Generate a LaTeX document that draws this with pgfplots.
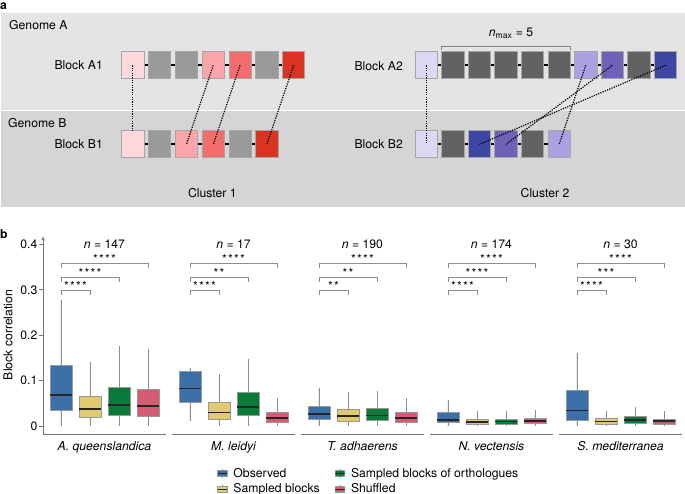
\documentclass[border=0pt]{standalone}
\usepackage{fontspec}
\setmainfont{TeX Gyre Heros}
\usepackage{pgfplots}
\usepackage{pgfplotstable}
\pgfplotsset{compat=1.18}
\usepgfplotslibrary{statistics}

% series colours
\definecolor{cobs}{HTML}{3C6EA8}
\definecolor{csam}{HTML}{E2CB6C}
\definecolor{cort}{HTML}{0A7A3B}
\definecolor{cshu}{HTML}{D45B71}
% schematic colours
\definecolor{bgA}{HTML}{E4E4E4}
\definecolor{bgB}{HTML}{D5D5D5}
\definecolor{pk1}{HTML}{FDD9DE}
\definecolor{pk2}{HTML}{FBA4A9}
\definecolor{pk3}{HTML}{F46D6D}
\definecolor{pk4}{HTML}{D93322}
\definecolor{gl}{HTML}{9A9A9A}
\definecolor{gd}{HTML}{626262}
\definecolor{lv1}{HTML}{DCD8F4}
\definecolor{lv2}{HTML}{A9A1E0}
\definecolor{lv3}{HTML}{6E62B8}
\definecolor{lv4}{HTML}{3D46A0}

% box statistics, rows: observed, sampled blocks, sampled orthologues, shuffled
\pgfplotstableread{
lw    lq    med   uq    uw
0     0.035 0.068 0.134 0.277
0     0.018 0.037 0.066 0.141
0     0.023 0.046 0.085 0.176
0     0.021 0.044 0.081 0.169
}\aque
\pgfplotstableread{
lw    lq    med   uq    uw
0.010 0.052 0.083 0.121 0.127
0     0.015 0.030 0.053 0.114
0     0.023 0.042 0.073 0.147
0     0.008 0.018 0.030 0.062
}\mlei
\pgfplotstableread{
lw    lq    med   uq    uw
0     0.015 0.026 0.044 0.083
0     0.011 0.022 0.037 0.075
0     0.012 0.023 0.038 0.077
0     0.009 0.017 0.031 0.061
}\tadh
\pgfplotstableread{
lw    lq    med   uq    uw
0     0.007 0.013 0.029 0.057
0     0.004 0.009 0.015 0.033
0     0.004 0.010 0.015 0.033
0     0.005 0.011 0.017 0.035
}\nvec
\pgfplotstableread{
lw    lq    med   uq    uw
0     0.013 0.034 0.079 0.160
0     0.004 0.010 0.016 0.034
0     0.006 0.013 0.021 0.041
0     0.004 0.011 0.015 0.033
}\smed

\newcommand\bx[3]{%
  \pgfplotstablegetelem{#2}{lw}\of{#1}\edef\vlw{\pgfplotsretval}%
  \pgfplotstablegetelem{#2}{lq}\of{#1}\edef\vlq{\pgfplotsretval}%
  \pgfplotstablegetelem{#2}{med}\of{#1}\edef\vmed{\pgfplotsretval}%
  \pgfplotstablegetelem{#2}{uq}\of{#1}\edef\vuq{\pgfplotsretval}%
  \pgfplotstablegetelem{#2}{uw}\of{#1}\edef\vuw{\pgfplotsretval}%
  \edef\dobox{\noexpand\addplot[forget plot, fill=#3, draw=black!40, line width=0.8bp,
    boxplot/every box/.style={fill=#3, draw=black!40, line width=0.8bp},
    boxplot prepared={draw direction=y, draw position=#2+1,
      lower whisker=\vlw, lower quartile=\vlq, median=\vmed,
      upper quartile=\vuq, upper whisker=\vuw}]
    coordinates {};}%
  \dobox}
\newcommand\boxes[1]{\bx{#1}{0}{cobs}\bx{#1}{1}{csam}\bx{#1}{2}{cort}\bx{#1}{3}{cshu}}

\newcommand\stwo{*\kern1.3bp*}
\newcommand\sthree{*\kern1.3bp*\kern1.3bp*}
\newcommand\sfour{*\kern1.3bp*\kern1.3bp*\kern1.3bp*}
\newcommand\sig[3]{%
  \draw[brk] (axis cs:1,0.288) |- (axis cs:2,0.299) -- (axis cs:2,0.288);
  \draw[brk] (axis cs:1,0.317) |- (axis cs:3,0.328) -- (axis cs:3,0.317);
  \draw[brk] (axis cs:1,0.347) |- (axis cs:4,0.358) -- (axis cs:4,0.347);
  \node[stars] at (axis cs:1.5,0.299) {#1};
  \node[stars] at (axis cs:2,0.328) {#2};
  \node[stars] at (axis cs:2.5,0.358) {\sfour};
  \node[anchor=base, inner sep=0pt] at (axis cs:2.5,0.391) {\textit{n} = #3};}

\newcommand\gbox[3]{\draw[fill=#3, draw=black!35, line width=0.7bp] ({#1},{#2}) rectangle ++(22.3,27);}
\newcommand\mainsize{\fontsize{12.2bp}{14.6bp}\selectfont}

\tikzset{
  brk/.style={draw=black!45, line width=0.8bp},
  stars/.style={anchor=base, inner sep=0pt},
}
\pgfplotsset{
  facet/.style={
    scale only axis, width=123bp, height=197.3bp,
    xmin=0.38, xmax=4.62, ymin=-0.0176, ymax=0.417,
    axis x line=bottom,
    axis line style={-, draw=black!55, line width=0.7bp},
    xtick=\empty, clip=false,
    xlabel style={at={(axis description cs:0.5,0)}, anchor=north,
      inner sep=0pt, yshift=-7.5bp, font=\mainsize\itshape},
    boxplot/every median/.style={draw=black!85, line width=1.6bp},
    boxplot/every whisker/.style={draw=black!45, line width=0.8bp},
    boxplot/whisker extend=0,
    boxplot/box extend=0.76,
  },
  nofirst/.style={axis y line=none, ytick=\empty},
  legbox/.style={legend image code/.code={
    \draw[black!45, line width=0.7bp] (4.7bp,-4.2bp) -- (4.7bp,4.2bp);
    \draw[fill=#1, draw=black!40, line width=0.7bp] (0bp,-2.8bp) rectangle (9.4bp,2.8bp);
    \draw[black!85, line width=1bp] (0bp,0bp) -- (9.4bp,0bp);}},
}

\begin{document}
\mainsize
\begin{tikzpicture}
\useasboundingbox (0,0) rectangle (685bp,-494bp);

% ---- panel a: schematic
\begin{scope}[x=1bp, y=-1bp]
\fill[bgA] (1,13.3) rectangle (685,110);
\fill[bgB] (1,110) rectangle (685,207.3);
\draw[white, line width=0.8bp] (1,110) -- (685,110);
\node[anchor=base west, inner sep=0pt, font=\bfseries] at (0,9) {a};
\node[anchor=base west, inner sep=0pt] at (9,29.8) {Genome A};
\node[anchor=base west, inner sep=0pt] at (8,127.6) {Genome B};
\node[anchor=base east, inner sep=0pt] at (103,69.6) {Block A1};
\node[anchor=base east, inner sep=0pt] at (103,148.6) {Block B1};
\node[anchor=base east, inner sep=0pt] at (403,70.5) {Block A2};
\node[anchor=base east, inner sep=0pt] at (403,148.6) {Block B2};

\draw[line width=2.2bp] (132.85,65.35) -- (293.65,65.35);
\draw[line width=2.2bp] (132.85,144.35) -- (266.85,144.35);
\draw[line width=2.2bp] (426.15,65.35) -- (665.55,65.35);
\draw[line width=2.2bp] (426.15,144.35) -- (559.15,144.35);
\foreach \c [count=\k from 0] in {pk1,gl,gl,pk2,pk3,gl,pk4} {\gbox{121.7+26.8*\k}{51.7}{\c}}
\foreach \c [count=\k from 0] in {pk1,gl,pk2,pk3,gl,pk4} {\gbox{121.7+26.8*\k}{130.7}{\c}}
\foreach \c [count=\k from 0] in {lv1,gd,gd,gd,gd,gd,lv2,lv3,gd,lv4} {\gbox{415+26.6*\k}{51.7}{\c}}
\foreach \c [count=\k from 0] in {lv1,gd,lv4,lv3,gd,lv2} {\gbox{415+26.6*\k}{130.7}{\c}}

\begin{scope}[line width=1.2bp, dash pattern=on 1.2bp off 1.2bp]
\draw (132.85,65.35) -- (132.85,130.7);
\draw (213.25,65.35) -- (186.45,144.35);
\draw (240.05,65.35) -- (213.25,144.35);
\draw (293.65,65.35) -- (266.85,144.35);
\draw (426.15,65.35) -- (426.15,144.35);
\draw (585.75,65.35) -- (559.15,144.35);
\draw (612.35,65.35) -- (505.95,144.35);
\draw (665.55,65.35) -- (479.35,144.35);
\end{scope}

\draw[black!50, line width=0.8bp] (441,50) -- (441,46.7) -- (570,46.7) -- (570,50);
\node[anchor=base, inner sep=0pt] at (511,36.6) {\textit{n}\textsubscript{max} = 5};
\node[anchor=base, inner sep=0pt] at (212.3,197) {Cluster 1};
\node[anchor=base, inner sep=0pt] at (545,197) {Cluster 2};

% ---- panel b labels
\node[anchor=base west, inner sep=0pt, font=\bfseries] at (0,238) {b};
\node[rotate=90, inner sep=0pt] at (8,335) {Block correlation};
\end{scope}

% ---- panel b: one axis per species
\begin{axis}[facet, at={(43bp,-434bp)}, anchor=south west,
  axis y line=left, ytick={0,0.1,0.2,0.3,0.4}, yticklabels={0,0.1,0.2,0.3,0.4},
  tick align=outside, major tick length=4bp,
  ytick style={draw=black!55, line width=0.7bp},
  yticklabel style={inner sep=1.5bp, font=\mainsize},
  xlabel={A. queenslandica}]
\boxes{\aque}
\sig{\sfour}{\sfour}{147}
\end{axis}

\begin{axis}[facet, nofirst, at={(172bp,-434bp)}, anchor=south west,
  xlabel={M. leidyi},
  legend columns=2, transpose legend, legend cell align=left,
  legend style={at={(axis description cs:0.365,-0.162)}, anchor=north west,
    draw=none, fill=none, inner sep=0pt, row sep=0.5bp, font=\mainsize,
    nodes={font=\mainsize},
    /tikz/every odd column/.append style={column sep=4bp},
    /tikz/every even column/.append style={column sep=13bp}}]
\boxes{\mlei}
\sig{\sfour}{\stwo}{17}
\addlegendimage{legbox=cobs}\addlegendentry{Observed}
\addlegendimage{legbox=csam}\addlegendentry{Sampled blocks}
\addlegendimage{legbox=cort}\addlegendentry{Sampled blocks of orthologues}
\addlegendimage{legbox=cshu}\addlegendentry{Shuffled}
\end{axis}

\begin{axis}[facet, nofirst, at={(301bp,-434bp)}, anchor=south west, xlabel={T. adhaerens}]
\boxes{\tadh}
\sig{\stwo}{\stwo}{190}
\end{axis}

\begin{axis}[facet, nofirst, at={(430bp,-434bp)}, anchor=south west, xlabel={N. vectensis}]
\boxes{\nvec}
\sig{\sfour}{\sfour}{174}
\end{axis}

\begin{axis}[facet, nofirst, at={(559bp,-434bp)}, anchor=south west, xlabel={S. mediterranea}]
\boxes{\smed}
\sig{\sfour}{\sthree}{30}
\end{axis}
\end{tikzpicture}
\end{document}
